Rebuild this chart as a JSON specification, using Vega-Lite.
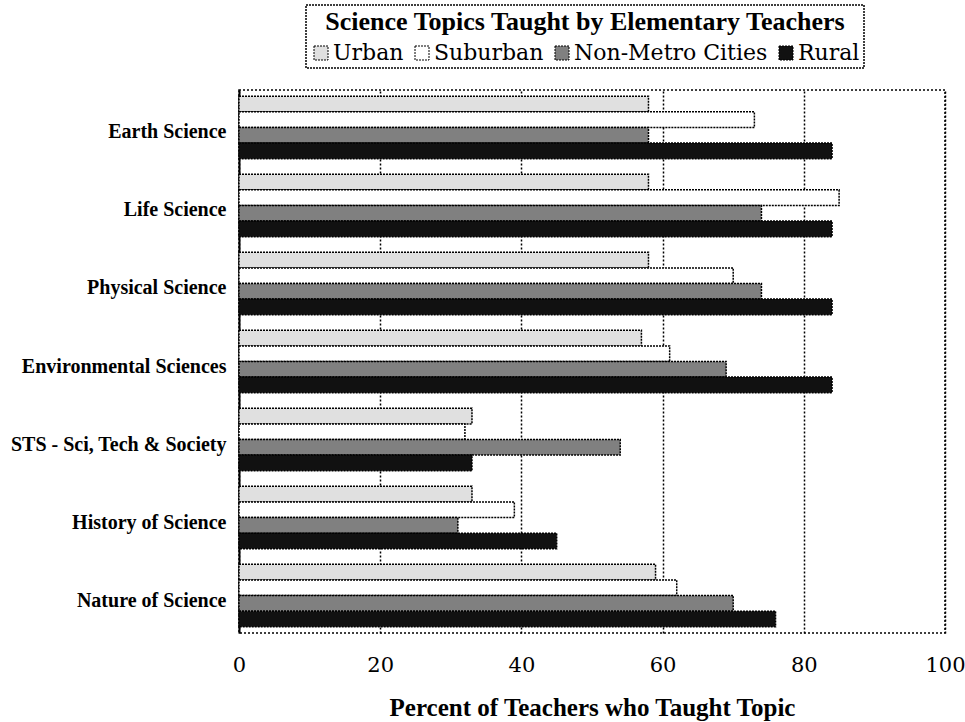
{
  "$schema": "https://vega.github.io/schema/vega-lite/v6.json",
  "autosize": "none",
  "width": 706,
  "height": 543,
  "padding": {"left": 239, "top": 90, "right": 20, "bottom": 89},
  "background": "white",
  "data": {
    "values": [
      {"topic": "Earth Science", "area": "Urban", "value": 58},
      {"topic": "Earth Science", "area": "Suburban", "value": 73},
      {"topic": "Earth Science", "area": "Non-Metro Cities", "value": 58},
      {"topic": "Earth Science", "area": "Rural", "value": 84},
      {"topic": "Life Science", "area": "Urban", "value": 58},
      {"topic": "Life Science", "area": "Suburban", "value": 85},
      {"topic": "Life Science", "area": "Non-Metro Cities", "value": 74},
      {"topic": "Life Science", "area": "Rural", "value": 84},
      {"topic": "Physical Science", "area": "Urban", "value": 58},
      {"topic": "Physical Science", "area": "Suburban", "value": 70},
      {"topic": "Physical Science", "area": "Non-Metro Cities", "value": 74},
      {"topic": "Physical Science", "area": "Rural", "value": 84},
      {"topic": "Environmental Sciences", "area": "Urban", "value": 57},
      {"topic": "Environmental Sciences", "area": "Suburban", "value": 61},
      {"topic": "Environmental Sciences", "area": "Non-Metro Cities", "value": 69},
      {"topic": "Environmental Sciences", "area": "Rural", "value": 84},
      {"topic": "STS - Sci, Tech & Society", "area": "Urban", "value": 33},
      {"topic": "STS - Sci, Tech & Society", "area": "Suburban", "value": 32},
      {"topic": "STS - Sci, Tech & Society", "area": "Non-Metro Cities", "value": 54},
      {"topic": "STS - Sci, Tech & Society", "area": "Rural", "value": 33},
      {"topic": "History of Science", "area": "Urban", "value": 33},
      {"topic": "History of Science", "area": "Suburban", "value": 39},
      {"topic": "History of Science", "area": "Non-Metro Cities", "value": 31},
      {"topic": "History of Science", "area": "Rural", "value": 45},
      {"topic": "Nature of Science", "area": "Urban", "value": 59},
      {"topic": "Nature of Science", "area": "Suburban", "value": 62},
      {"topic": "Nature of Science", "area": "Non-Metro Cities", "value": 70},
      {"topic": "Nature of Science", "area": "Rural", "value": 76}
    ]
  },
  "mark": {"type": "bar", "stroke": "black", "strokeWidth": 1.5, "strokeDash": [2, 1]},
  "encoding": {
    "y": {
      "field": "topic",
      "type": "nominal",
      "sort": ["Earth Science", "Life Science", "Physical Science", "Environmental Sciences", "STS - Sci, Tech & Society", "History of Science", "Nature of Science"],
      "scale": {"paddingInner": 0.2, "paddingOuter": 0.08},
      "axis": {
        "title": null,
        "ticks": false,
        "domainColor": "black",
        "domainWidth": 2,
        "labelFont": "Liberation Serif",
        "labelFontWeight": "bold",
        "labelFontSize": 20,
        "labelColor": "black",
        "labelPadding": 13,
        "labelOffset": 5,
        "labelLimit": 300
      }
    },
    "yOffset": {
      "field": "area",
      "type": "nominal",
      "sort": ["Urban", "Suburban", "Non-Metro Cities", "Rural"],
      "scale": {"paddingInner": 0, "paddingOuter": 0}
    },
    "x": {
      "field": "value",
      "type": "quantitative",
      "scale": {"domain": [0, 100], "nice": false},
      "axis": {
        "title": "Percent of Teachers who Taught Topic",
        "titleFont": "Liberation Serif",
        "titleFontSize": 25,
        "titleFontWeight": "bold",
        "titleColor": "black",
        "titlePadding": 20,
        "values": [0, 20, 40, 60, 80, 100],
        "ticks": false,
        "domain": false,
        "grid": true,
        "gridColor": "black",
        "gridDash": [2, 2],
        "gridWidth": 1.5,
        "gridOpacity": 1,
        "labelFont": "DejaVu Serif",
        "labelFontSize": 21,
        "labelColor": "black",
        "labelPadding": 21,
        "labelFlush": false
      }
    },
    "fill": {
      "field": "area",
      "type": "nominal",
      "sort": ["Urban", "Suburban", "Non-Metro Cities", "Rural"],
      "scale": {"domain": ["Urban", "Suburban", "Non-Metro Cities", "Rural"], "range": ["#e0e0e0", "#ffffff", "#808080", "#111111"]},
      "legend": {
        "title": "Science Topics Taught by Elementary Teachers",
        "orient": "none",
        "legendX": 67,
        "legendY": -85,
        "direction": "horizontal",
        "columns": 4,
        "titleAnchor": "middle",
        "titleFont": "Liberation Serif",
        "titleFontSize": 26,
        "titleFontWeight": "bold",
        "titleColor": "black",
        "titlePadding": 7,
        "titleLimit": 1000,
        "labelFont": "DejaVu Serif",
        "labelFontSize": 22,
        "labelColor": "black",
        "labelOffset": 1,
        "labelLimit": 400,
        "columnPadding": 7,
        "symbolType": "square",
        "symbolSize": 196,
        "symbolStrokeColor": "black",
        "symbolStrokeWidth": 1,
        "symbolDash": [2, 1],
        "strokeColor": "black",
        "padding": 4
      }
    }
  },
  "config": {
    "view": {"stroke": "black", "strokeWidth": 1.5, "strokeDash": [2, 2]},
    "legend": {"strokeDash": [2, 1], "strokeWidth": 1.5}
  }
}
